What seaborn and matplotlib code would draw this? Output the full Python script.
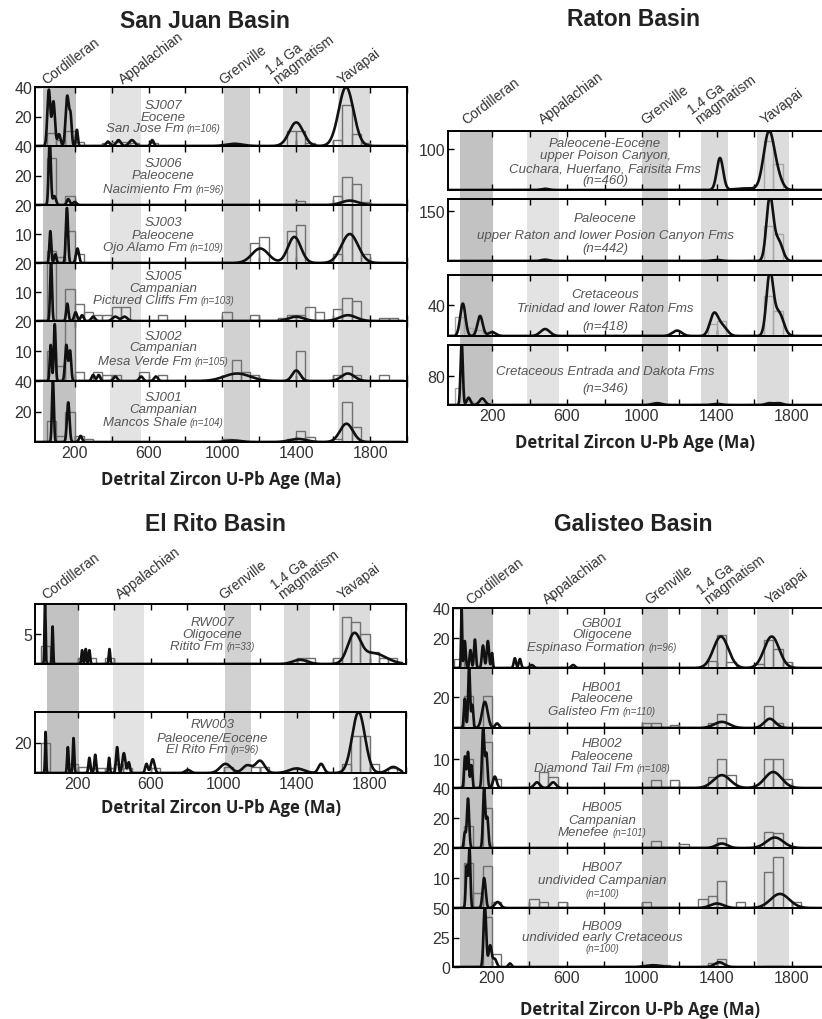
import numpy as np
import pandas as pd
import matplotlib
matplotlib.use("Agg")
import matplotlib.pyplot as plt
import matplotlib.transforms as mtransforms
import seaborn as sns

sns.set_theme(style="white")
plt.rcParams["font.family"] = ["Liberation Sans", "DejaVu Sans"]

W, H = 822, 1020

# ---------------- age provinces (Ma) ----------------
province_names = ["Cordilleran", "Appalachian", "Grenville", "1.4 Ga\nmagmatism", "Yavapai"]
province_start = [30, 388, 1000, 1315, 1615]
province_end = [205, 557, 1140, 1460, 1785]

# ---------------- San Juan Basin ----------------
sj007_bins = [50, 100, 150, 200, 350, 400, 450, 500, 600, 1050, 1350, 1400, 1450, 1600, 1650, 1700, 1750]
sj007_counts = [9, 4, 10, 3, 2, 3, 3, 2, 2, 1, 10, 10, 2, 4, 28, 8, 2]
sj007_peak_age = [60, 85, 115, 160, 178, 212, 380, 437, 510, 620, 1065, 1400, 1670]
sj007_peak_ht = [38, 30, 8, 34, 18, 11, 3, 4, 4, 4, 1.5, 16, 40]
sj007_peak_sd = [8, 8, 8, 9, 6, 5, 10, 12, 15, 8, 45, 38, 40]

sj006_bins = [50, 150, 1400, 1600, 1650, 1700, 1750]
sj006_counts = [32, 6, 3, 6, 19, 14, 2]
sj006_peak_age = [65, 90, 165, 200, 1690]
sj006_peak_ht = [44, 6, 4, 2, 3]
sj006_peak_sd = [6, 8, 8, 10, 45]

sj003_bins = [50, 100, 150, 200, 1150, 1200, 1350, 1400, 1600, 1650, 1700, 1750]
sj003_counts = [4, 2, 11, 3, 7, 9, 11, 13, 3, 22, 22, 3]
sj003_peak_age = [68, 95, 158, 215, 1205, 1390, 1690]
sj003_peak_ht = [11, 3, 19, 5, 5, 9, 10]
sj003_peak_sd = [5, 6, 6, 8, 45, 35, 45]

sj005_bins = [50, 150, 200, 250, 300, 350, 400, 450, 650, 1000, 1150, 1300, 1350, 1400, 1450, 1500, 1600, 1650, 1700, 1850, 1900]
sj005_counts = [20, 11, 6, 3, 2, 2, 5, 5, 2, 3, 2, 1, 2, 2, 5, 3, 4, 8, 7, 1, 1]
sj005_peak_age = [72, 160, 205, 240, 300, 420, 470, 1400, 1680]
sj005_peak_ht = [21, 6, 3, 2, 1.5, 1.5, 1.5, 1.5, 2]
sj005_peak_sd = [5, 6, 8, 8, 10, 15, 15, 40, 45]

sj002_bins = [50, 100, 150, 200, 300, 350, 400, 550, 650, 1050, 1100, 1150, 1400, 1600, 1650, 1700, 1850]
sj002_counts = [10, 5, 21, 3, 3, 2, 2, 3, 2, 7, 3, 2, 10, 2, 5, 2, 2]
sj002_peak_age = [70, 92, 155, 175, 300, 330, 420, 560, 640, 1080, 1400, 1680]
sj002_peak_ht = [12, 19, 12, 10, 2, 2, 1.5, 1.5, 1.5, 2.5, 3.5, 2.5]
sj002_peak_sd = [5, 5, 7, 6, 8, 8, 10, 10, 10, 70, 22, 35]

sj001_bins = [50, 100, 150, 200, 250, 1000, 1350, 1400, 1450, 1600, 1650, 1700]
sj001_counts = [14, 4, 20, 4, 2, 2, 2, 7, 3, 2, 26, 10]
sj001_peak_age = [82, 165, 232, 1060, 1410, 1672]
sj001_peak_ht = [42, 26, 4, 1, 2, 12]
sj001_peak_sd = [5, 7, 8, 40, 45, 35]

# ---------------- Raton Basin ----------------
r1_bins = [1650, 1700]
r1_counts = [120, 63]
r1_peak_age = [483, 1416, 1560, 1677, 1725]
r1_peak_ht = [3, 78, 4, 140, 25]
r1_peak_sd = [20, 17, 60, 28, 25]

r2_bins = [1650, 1700]
r2_counts = [105, 81]
r2_peak_age = [483, 1400, 1682, 1728]
r2_peak_ht = [4, 3, 190, 60]
r2_peak_sd = [20, 25, 18, 22]

r3_bins = [0, 50, 100, 1350, 1400, 1650, 1700]
r3_counts = [25, 10, 8, 15, 20, 52, 33]
r3_peak_age = [44, 136, 200, 483, 1187, 1384, 1430, 1682, 1730]
r3_peak_ht = [42, 26, 5, 9, 7, 28, 12, 80, 30]
r3_peak_sd = [14, 14, 20, 25, 25, 22, 25, 18, 25]

r4_bins = [0, 50, 100, 150]
r4_counts = [47, 12, 8, 6]
r4_peak_age = [38, 75, 148, 1080, 1400, 1680, 1730]
r4_peak_ht = [175, 20, 18, 5, 3, 5, 5]
r4_peak_sd = [6, 10, 15, 25, 25, 20, 20]

# ---------------- El Rito Basin ----------------
rw007_bins = [0, 200, 250, 350, 1400, 1450, 1600, 1650, 1700, 1750, 1800, 1850, 1900]
rw007_counts = [3, 1, 1, 1, 1, 1, 1, 7.8, 7, 5, 2, 1, 1]
rw007_peak_age = [22, 63, 225, 245, 265, 375, 1420, 1715, 1820]
rw007_peak_ht = [11, 6.3, 2.3, 2.5, 2.3, 2.5, 0.7, 4.6, 1.8]
rw007_peak_sd = [3, 3, 4, 4, 4, 4, 40, 35, 70]

rw003_bins = [0, 150, 200, 250, 300, 350, 400, 450, 600, 1000, 1150, 1200, 1650, 1700, 1750, 1800, 1900]
rw003_counts = [20, 6, 4, 3, 3, 3, 6, 3, 3, 4, 4, 4, 6, 24, 24, 6, 3]
rw003_peak_age = [25, 147, 178, 265, 297, 373, 417, 454, 481, 578, 612, 805, 1011, 1130, 1200, 1400, 1535, 1740, 1930]
rw003_peak_ht = [27, 17, 23, 10, 12, 10, 17, 13, 7, 6, 9, 2, 6, 5, 8, 3, 6, 40, 4]
rw003_peak_sd = [3, 4, 4, 5, 5, 4, 6, 8, 6, 7, 10, 15, 30, 25, 25, 40, 15, 35, 30]

# ---------------- Galisteo Basin ----------------
gb001_bins = [0, 1350, 1400, 1450, 1600, 1650, 1700, 1750]
gb001_counts = [6, 5, 22, 4, 3, 19, 13, 4]
gb001_peak_age = [38, 55, 85, 109, 152, 178, 200, 322, 349, 412, 633, 1421, 1692]
gb001_peak_ht = [40, 18, 12, 19, 15, 18, 10, 6.5, 6, 2, 2, 21, 21]
gb001_peak_sd = [3, 5, 5, 5, 6, 6, 4, 6, 6, 10, 10, 40, 40]

hb001_bins = [50, 150, 1000, 1050, 1150, 1350, 1400, 1650, 1700]
hb001_counts = [21, 21, 3, 3, 2, 3, 9, 14, 3]
hb001_peak_age = [55, 78, 95, 162, 227, 1426, 1682]
hb001_peak_ht = [19, 40, 15, 17, 3, 4, 6]
hb001_peak_sd = [5, 5, 5, 15, 10, 40, 30]

hb002_bins = [50, 150, 200, 450, 500, 1050, 1150, 1350, 1400, 1450, 1650, 1700, 1750]
hb002_counts = [10, 16, 3, 5.6, 4, 2.8, 2.8, 4, 10, 4.5, 10, 10, 3]
hb002_peak_age = [56, 72, 90, 153, 170, 215, 440, 526, 1426, 1700]
hb002_peak_ht = [11, 12.6, 8, 21, 12, 4, 2, 2, 4.5, 5.6]
hb002_peak_sd = [5, 5, 5, 6, 6, 10, 15, 15, 45, 45]

hb005_bins = [50, 150, 1050, 1200, 1400, 1650, 1700]
hb005_counts = [15, 27, 5, 3, 7, 11, 10]
hb005_peak_age = [55, 72, 158, 175, 1426, 1709]
hb005_peak_ht = [10, 33, 40, 20, 3, 7]
hb005_peak_sd = [5, 6, 6, 6, 30, 45]

hb007_bins = [50, 100, 150, 200, 400, 450, 550, 1000, 1300, 1350, 1400, 1500, 1650, 1700, 1800]
hb007_counts = [15, 5, 14, 2, 3, 2, 2, 2, 3, 4, 9, 2, 12, 17, 2]
hb007_peak_age = [65, 80, 158, 230, 1400, 1736]
hb007_peak_ht = [14, 20, 10, 2, 1.5, 4.7]
hb007_peak_sd = [5, 5, 8, 15, 35, 50]

hb009_bins = [150, 200, 1050, 1100, 1350, 1400, 1650, 1700]
hb009_counts = [42, 11, 2, 2, 3, 7, 1, 1]
hb009_peak_age = [162, 190, 214, 296, 1060, 1413]
hb009_peak_ht = [52, 18, 7, 3, 1.5, 4]
hb009_peak_sd = [7, 8, 10, 8, 40, 25]

xtick_values = [200, 400, 600, 800, 1000, 1200, 1400, 1600, 1800, 2000]
xtick_labels = ["200", "", "600", "", "1000", "", "1400", "", "1800", ""]
xlabel_text = "Detrital Zircon U-Pb Age (Ma)"

# ---------------- drawing ----------------
fig = plt.figure(figsize=(W / 100, H / 100), dpi=100)
fig.patch.set_facecolor("white")
renderer = fig.canvas.get_renderer()

shades = ["#c2c2c2", "#e3e3e3", "#d1d1d1", "#dadada", "#dcdcdc"]
NOTE_COLOR = "#565656"
TICK_COLOR = "#333333"


def rect(left, right, top, bottom):
    return [left / W, 1 - bottom / H, (right - left) / W, (bottom - top) / H]


def draw_notes(ax, x_age, lines, offsets, size, small_size, panel_px):
    base = ax.get_xaxis_transform()
    for line, off in zip(lines, offsets):
        y = 1 - (off + 0.33 * size * 1.389) / panel_px
        if isinstance(line, str):
            ax.text(x_age, y, line, ha="center", va="baseline", style="italic",
                    size=size, color=NOTE_COLOR, transform=base)
            continue
        main, small = line
        t1 = ax.text(x_age, y, main, ha="left", va="baseline", style="italic",
                     size=size, color=NOTE_COLOR, transform=base)
        t2 = ax.text(x_age, y, small, ha="left", va="baseline", style="italic",
                     size=small_size, color=NOTE_COLOR, transform=base)
        w1 = t1.get_window_extent(renderer).width if main else 0.0
        w2 = t2.get_window_extent(renderer).width
        gap = 3.0 if main else 0.0
        total = w1 + gap + w2
        t1.set_transform(mtransforms.offset_copy(base, fig=fig, x=-total / 2, y=0, units="dots"))
        t2.set_transform(mtransforms.offset_copy(base, fig=fig, x=-total / 2 + w1 + gap, y=0, units="dots"))


def draw_basin(title, title_xy, xlabel_xy, left, right, xlim, bounds, panels,
               label_ages, label_gap, note_age, note_size, small_size, edge):
    top_all, bottom_all = bounds[0][0], bounds[-1][1]
    bg = fig.add_axes(rect(left, right, top_all, bottom_all))
    bg.set_zorder(0)
    bg.set_xlim(*xlim)
    bg.set_ylim(0, 1)
    bg.axis("off")
    for s, e, c in zip(province_start, province_end, shades):
        bg.axvspan(s, e, color=c, lw=0)

    grid = np.linspace(xlim[0], xlim[1], 2400)
    axes = []
    for i, ((top, bottom), p) in enumerate(zip(bounds, panels)):
        ax = fig.add_axes(rect(left, right, top, bottom))
        ax.set_zorder(1)
        ax.patch.set_alpha(0)
        hist_df = pd.DataFrame({"age": np.asarray(p["bins"], float) + 25.0,
                                "count": np.asarray(p["counts"], float)})
        sns.histplot(data=hist_df, x="age", weights="count",
                     binwidth=50, binrange=(-50, 2050), fill=False, element="bars",
                     color=edge, linewidth=1.0, ax=ax)
        dens = np.zeros_like(grid)
        for a, h, s in zip(p["age"], p["ht"], p["sd"]):
            dens += h * np.exp(-0.5 * ((grid - a) / s) ** 2)
        sns.lineplot(x=grid, y=dens, color="#111111", linewidth=1.9, ax=ax)
        ax.set_xlim(*xlim)
        ax.set_ylim(0, p["ymax"])
        ax.set_xlabel("")
        ax.set_ylabel("")
        ax.set_yticks(p["yticks"])
        ax.set_yticklabels([str(v) for v in p["yticks"]])
        ax.set_xticks(xtick_values)
        for sp in ax.spines.values():
            sp.set_visible(True)
            sp.set_color("black")
            sp.set_linewidth(1.4)
        ax.tick_params(axis="both", direction="in", length=4, width=1, color="black",
                       labelcolor=TICK_COLOR, labelsize=11.5, pad=2,
                       top=True, bottom=True, left=True, right=False)
        if i == len(bounds) - 1:
            ax.set_xticklabels(xtick_labels)
        else:
            ax.tick_params(labelbottom=False)
        draw_notes(ax, note_age, p["notes"], p["offsets"], note_size, small_size, bottom - top)
        axes.append(ax)

    top_ax = axes[0]
    trans = mtransforms.offset_copy(top_ax.get_xaxis_transform(), fig=fig, x=0,
                                    y=label_gap, units="dots")
    for name, age in zip(province_names, label_ages):
        top_ax.text(age, 1.0, name, rotation=37, rotation_mode="anchor",
                    ha="left", va="bottom", size=10, color=TICK_COLOR,
                    linespacing=0.8, transform=trans, clip_on=False)

    fig.text(title_xy[0] / W, 1 - title_xy[1] / H, title, ha="center", va="center",
             size=16.5, weight="bold", color="#222222")
    fig.text(xlabel_xy[0] / W, 1 - xlabel_xy[1] / H, xlabel_text, ha="center",
             va="center", size=12, weight="bold", color="#222222",
             family=["Open Sans", "DejaVu Sans"])


def panel(bins, counts, age, ht, sd, ymax, yticks, notes, offsets):
    return dict(bins=bins, counts=counts, age=age, ht=ht, sd=sd, ymax=ymax,
                yticks=yticks, notes=notes, offsets=offsets)


san_juan = [
    panel(sj007_bins, sj007_counts, sj007_peak_age, sj007_peak_ht, sj007_peak_sd, 40, [20, 40],
          ["SJ007", "Eocene", ("San Jose Fm", "(n=106)")], [17, 29, 40]),
    panel(sj006_bins, sj006_counts, sj006_peak_age, sj006_peak_ht, sj006_peak_sd, 40, [20, 40],
          ["SJ006", "Paleocene", ("Nacimiento Fm", "(n=96)")], [16, 28, 42]),
    panel(sj003_bins, sj003_counts, sj003_peak_age, sj003_peak_ht, sj003_peak_sd, 20, [10, 20],
          ["SJ003", "Paleocene", ("Ojo Alamo Fm", "(n=109)")], [16, 29, 41]),
    panel(sj005_bins, sj005_counts, sj005_peak_age, sj005_peak_ht, sj005_peak_sd, 20, [10, 20],
          ["SJ005", "Campanian", ("Pictured Cliffs Fm", "(n=103)")], [12, 24, 36]),
    panel(sj002_bins, sj002_counts, sj002_peak_age, sj002_peak_ht, sj002_peak_sd, 20, [10, 20],
          ["SJ002", "Campanian", ("Mesa Verde Fm", "(n=105)")], [14, 25, 39]),
    panel(sj001_bins, sj001_counts, sj001_peak_age, sj001_peak_ht, sj001_peak_sd, 40, [20, 40],
          ["SJ001", "Campanian", ("Mancos Shale", "(n=104)")], [15, 27, 40]),
]
draw_basin("San Juan Basin", (205, 22), (221, 480), 35, 407, (-15, 1983),
           [(88, 147), (147, 206), (206, 264), (264, 322), (322, 382), (382, 443)],
           san_juan, [54, 473, 1016, 1306, 1656], 1, 680, 9.5, 7, "#707070")

raton = [
    panel(r1_bins, r1_counts, r1_peak_age, r1_peak_ht, r1_peak_sd, 144, [100],
          ["Paleocene-Eocene", "upper Poison Canyon,", "Cuchara, Huerfano, Farisita Fms", "(n=460)"],
          [11, 23, 36, 48]),
    panel(r2_bins, r2_counts, r2_peak_age, r2_peak_ht, r2_peak_sd, 186, [150],
          ["Paleocene", "upper Raton and lower Posion Canyon Fms", "(n=442)"], [18, 35, 48]),
    panel(r3_bins, r3_counts, r3_peak_age, r3_peak_ht, r3_peak_sd, 79, [40],
          ["Cretaceous", "Trinidad and lower Raton Fms", "(n=418)"], [18, 32, 50]),
    panel(r4_bins, r4_counts, r4_peak_age, r4_peak_ht, r4_peak_sd, 165, [80],
          ["Cretaceous Entrada and Dakota Fms", "(n=346)"], [25, 42]),
]
draw_basin("Raton Basin", (633, 19), (635, 443), 448, 830, (-35, 2003),
           [(132, 191), (200, 262), (276, 337), (346, 406)],
           raton, [72, 483, 1026, 1315, 1665], 5, 803, 9.5, 7.5, "#a8a8a8")

el_rito = [
    panel(rw007_bins, rw007_counts, rw007_peak_age, rw007_peak_ht, rw007_peak_sd, 10, [5],
          ["RW007", "Oligocene", ("Ritito Fm", "(n=33)")], [17, 29, 41]),
    panel(rw003_bins, rw003_counts, rw003_peak_age, rw003_peak_ht, rw003_peak_sd, 40, [20],
          ["RW003", "Paleocene/Eocene", ("El Rito Fm", "(n=96)")], [11, 25, 36]),
]
draw_basin("El Rito Basin", (215, 525), (221, 808), 35, 406, (-33, 1979),
           [(605, 665), (713, 774)],
           el_rito, [38, 446, 1007, 1333, 1660], 3, 940, 9.5, 7, "#707070")

galisteo = [
    panel(gb001_bins, gb001_counts, gb001_peak_age, gb001_peak_ht, gb001_peak_sd, 40, [20, 40],
          ["GB001", "Oligocene", ("Espinaso Formation", "(n=96)")], [14, 25, 38]),
    panel(hb001_bins, hb001_counts, hb001_peak_age, hb001_peak_ht, hb001_peak_sd, 39, [20],
          ["HB001", "Paleocene", ("Galisteo Fm", "(n=110)")], [18, 29, 42]),
    panel(hb002_bins, hb002_counts, hb002_peak_age, hb002_peak_ht, hb002_peak_sd, 21, [10],
          ["HB002", "Paleocene", ("Diamond Tail Fm", "(n=108)")], [14, 27, 39]),
    panel(hb005_bins, hb005_counts, hb005_peak_age, hb005_peak_ht, hb005_peak_sd, 40, [20, 40],
          ["HB005", "Campanian", ("Menefee", "(n=101)")], [18, 31, 43]),
    panel(hb007_bins, hb007_counts, hb007_peak_age, hb007_peak_ht, hb007_peak_sd, 20, [10, 20],
          ["HB007", "undivided Campanian", ("", "(n=100)")], [18, 31, 44]),
    panel(hb009_bins, hb009_counts, hb009_peak_age, hb009_peak_ht, hb009_peak_sd, 50, [0, 25, 50],
          ["HB009", "undivided early Cretaceous", ("", "(n=100)")], [17, 28, 39]),
]
draw_basin("Galisteo Basin", (633, 525), (640, 1010), 453, 830, (-8, 2003),
           [(609, 669), (669, 729), (729, 789), (789, 849), (849, 909), (909, 968)],
           galisteo, [93, 504, 1048, 1363, 1694], 2, 787, 9.5, 7, "#707070")

fig.savefig("out.png", dpi=100, facecolor="white")
